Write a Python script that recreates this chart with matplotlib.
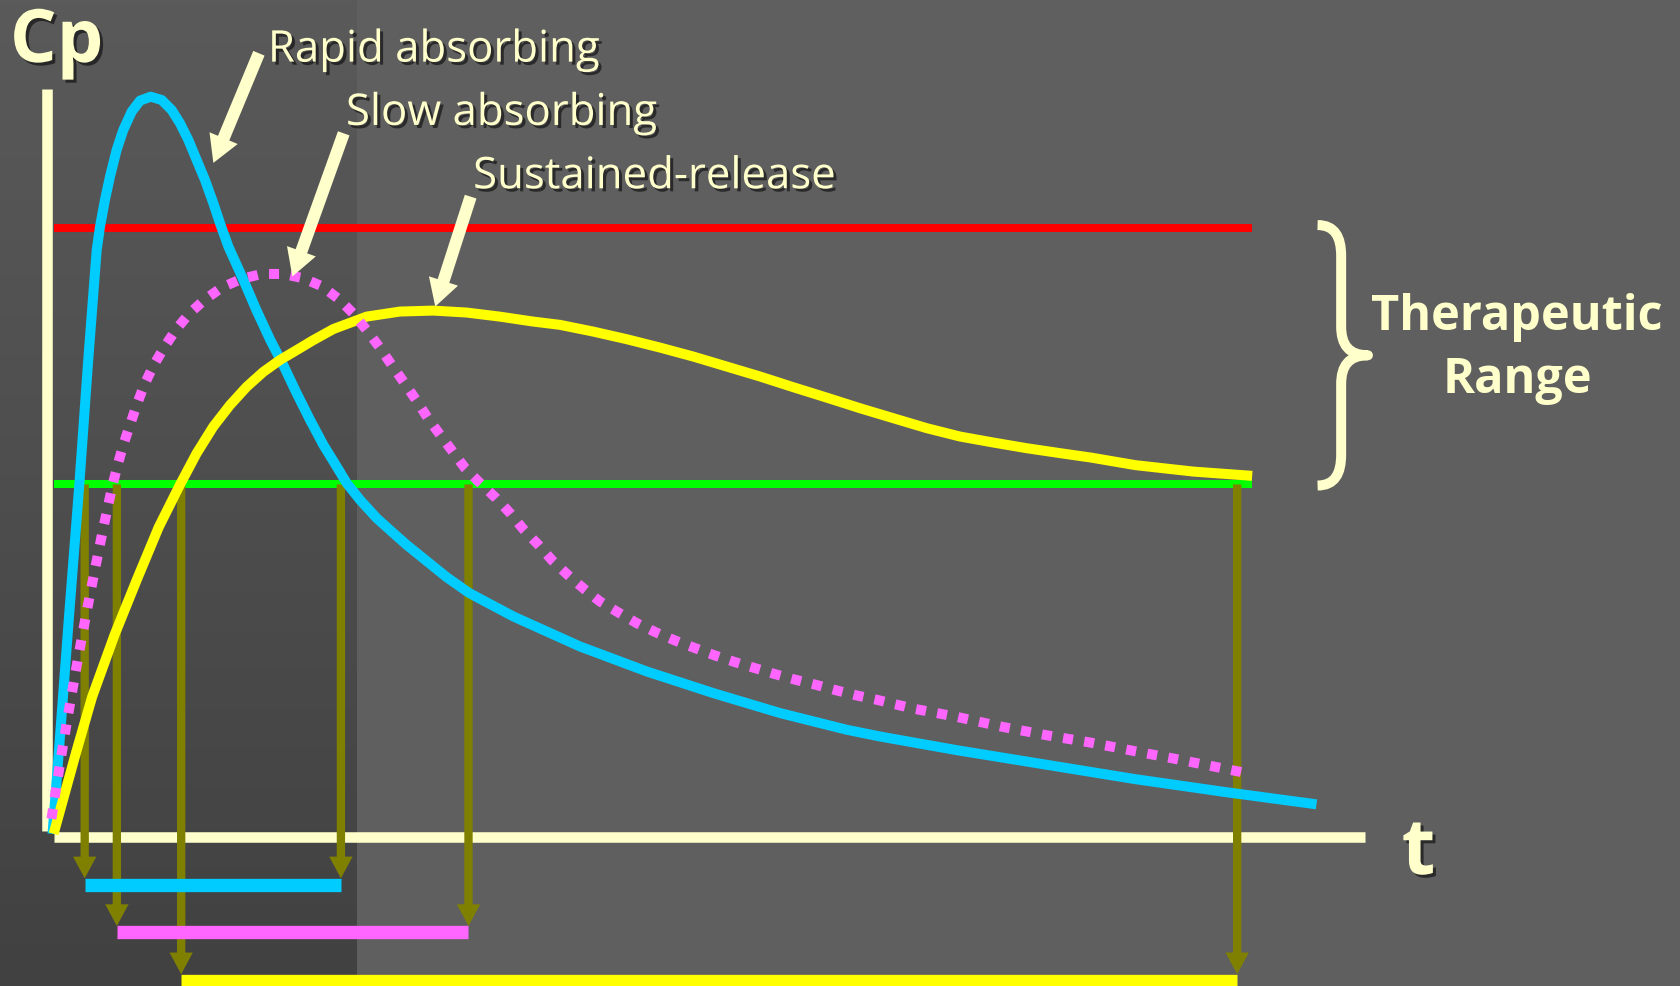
import numpy as np
import matplotlib
matplotlib.use("Agg")
import matplotlib.pyplot as plt
import matplotlib.patheffects as pe
from matplotlib.colors import LinearSegmentedColormap
from matplotlib.path import Path
from matplotlib.patches import PathPatch

# plasma concentration vs time (t in h, Cp in arbitrary units)
t_rapid = [0.02, 0.095, 0.17, 0.27, 0.35, 0.432, 0.463, 0.509, 0.556, 0.618, 0.68, 0.758, 0.836,
           0.935, 1.038, 1.131, 1.209, 1.287, 1.364, 1.442, 1.52, 1.582, 1.66, 1.80, 1.92, 2.05,
           2.179, 2.297, 2.422, 2.546, 2.67, 2.764, 2.888, 3.044, 3.199, 3.323, 3.697, 3.908,
           4.318, 4.94, 5.562, 6.183, 6.805, 7.428, 7.738, 8.457, 9.288, 10.12, 10.956, 11.81]
cp_rapid = [0.00, 0.98, 1.98, 3.26, 4.38, 5.448, 5.666, 5.915, 6.132, 6.381, 6.567, 6.738, 6.841,
            6.878, 6.847, 6.754, 6.63, 6.474, 6.288, 6.101, 5.884, 5.697, 5.48, 5.17, 4.89, 4.61,
            4.36, 4.111, 3.862, 3.629, 3.427, 3.272, 3.116, 2.945, 2.806, 2.696, 2.394, 2.246,
            2.028, 1.748, 1.515, 1.313, 1.127, 0.971, 0.908, 0.78, 0.645, 0.51, 0.39, 0.275]

t_slow = [0.01, 0.054, 0.107, 0.16, 0.24, 0.334, 0.418, 0.495, 0.58, 0.628, 0.68, 0.743, 0.805,
          0.876, 0.96, 1.06, 1.169, 1.293, 1.436, 1.598, 1.784, 1.971, 2.167, 2.359, 2.53, 2.69,
          2.82, 2.95, 3.07, 3.18, 3.30, 3.41, 3.52, 3.63, 3.75, 3.87, 4.01, 4.16, 4.29, 4.411,
          4.551, 4.682, 4.825, 4.977, 5.126, 5.298, 5.469, 5.649, 5.826, 6.013, 6.199, 6.386,
          6.572, 6.759, 6.952, 7.138, 7.334, 7.521, 7.707, 8.04, 8.46, 8.87, 9.29, 9.71, 10.12,
          10.54, 11.19]
cp_slow = [0.14, 0.43, 0.76, 1.08, 1.54, 2.05, 2.48, 2.86, 3.256, 3.443, 3.63, 3.816, 4.002,
           4.19, 4.366, 4.537, 4.702, 4.851, 4.982, 5.097, 5.178, 5.224, 5.224, 5.184, 5.11, 4.99,
           4.86, 4.70, 4.54, 4.38, 4.21, 4.05, 3.88, 3.73, 3.57, 3.41, 3.27, 3.13, 2.99, 2.843,
           2.697, 2.55, 2.417, 2.286, 2.168, 2.065, 1.966, 1.879, 1.804, 1.733, 1.664, 1.602,
           1.546, 1.49, 1.437, 1.391, 1.338, 1.291, 1.251, 1.17, 1.09, 1.00, 0.92, 0.85, 0.77,
           0.69, 0.56]

t_sr = [0.03, 0.24, 0.39, 0.60, 0.81, 1.01, 1.21, 1.364, 1.52, 1.675, 1.83, 1.986, 2.14, 2.30,
        2.45, 2.64, 2.95, 3.26, 3.57, 3.88, 4.19, 4.50, 4.753, 5.064, 5.376, 5.686, 5.997, 6.308,
        6.619, 6.93, 7.241, 7.552, 7.862, 8.174, 8.484, 8.795, 9.106, 9.417, 9.71, 10.12, 10.66,
        11.21]
cp_sr = [0.00, 0.76, 1.28, 1.86, 2.38, 2.86, 3.26, 3.55, 3.80, 4.00, 4.17, 4.31, 4.42, 4.515,
         4.605, 4.71, 4.826, 4.873, 4.882, 4.864, 4.826, 4.78, 4.749, 4.686, 4.615, 4.537, 4.453,
         4.36, 4.267, 4.167, 4.07, 3.971, 3.878, 3.785, 3.707, 3.651, 3.598, 3.552, 3.51, 3.44,
         3.38, 3.34]

MTC = 5.65  # minimum toxic concentration
MEC = 3.26  # minimum effective concentration
t_lines_end = 11.21

# start / end of therapeutic effect for rapid, slow, sustained-release
onset = [0.32, 0.62, 1.22]
offset = [2.71, 3.90, 11.07]

labels = ["Rapid absorbing", "Slow absorbing", "Sustained-release"]
colors = ["#00CCFF", "#FF66FF", "#FFFF00"]
bar_levels = [-0.475, -0.92, -1.37]

CREAM = "#FFFFCC"
OLIVE = "#808000"
FONT = ["Open Sans", "DejaVu Sans"]

fig = plt.figure(figsize=(16.81, 9.86), dpi=100)
fig.patch.set_facecolor("#5F5F5F")

# darker gradient panel on the left
bg = fig.add_axes([0, 0, 1, 1])
bg.set_axis_off()
grad = np.linspace(0, 1, 256).reshape(-1, 1)
cmap = LinearSegmentedColormap.from_list("panel", ["#5A5A5A", "#414141"])
bg.imshow(grad, cmap=cmap, aspect="auto", extent=(0, 333 / 1568, 0, 1), origin="upper")
bg.set_xlim(0, 1)
bg.set_ylim(0, 1)

ax = fig.add_axes([0, 0, 1, 1])
ax.set_axis_off()
ax.set_xlim(-0.47, 15.21)
ax.set_ylim(-1.42, 7.78)

# axes
ax.plot([-0.035, -0.035], [0.03, 6.95], color=CREAM, lw=7.6, solid_capstyle="butt", zorder=2)
ax.plot([0.03, 12.26], [-0.027, -0.027], color=CREAM, lw=7.6, solid_capstyle="butt", zorder=2)

# MTC / MEC
ax.plot([0.03, t_lines_end], [MTC, MTC], color="#FF0000", lw=5.8, solid_capstyle="butt", zorder=3)
ax.plot([0.03, t_lines_end], [MEC, MEC], color="#00FF00", lw=5.8, solid_capstyle="butt", zorder=3)

# drop arrows + duration bars
for i in range(3):
    for ts in (onset[i], offset[i]):
        ax.annotate("", xy=(ts, bar_levels[i] + 0.06), xytext=(ts, MEC),
                    arrowprops=dict(arrowstyle="simple,head_length=1.56,head_width=1.68,tail_width=0.6",
                                    mutation_scale=10, fc=OLIVE, ec="none", shrinkA=0, shrinkB=0),
                    zorder=4)
    ax.plot([onset[i], offset[i]], [bar_levels[i], bar_levels[i]], color=colors[i], lw=9.6,
            solid_capstyle="butt", zorder=5)

# curves
ax.plot(t_rapid, cp_rapid, color=colors[0], lw=7.2, solid_capstyle="butt", solid_joinstyle="round", zorder=6)
ax.plot(t_sr, cp_sr, color=colors[2], lw=7.2, solid_capstyle="butt", solid_joinstyle="round", zorder=7)
ax.plot(t_slow, cp_slow, color=colors[1], lw=7.2, linestyle=(0, (1, 1.14)), dash_capstyle="butt", zorder=8)

# label arrows
arrow_tips = [(1.52, 6.26), (2.257, 5.20), (3.59, 4.92)]
arrow_tails = [(1.945, 7.283), (2.736, 6.536), (3.92, 5.945)]
for tip, tail in zip(arrow_tips, arrow_tails):
    ax.annotate("", xy=tip, xytext=tail,
                arrowprops=dict(arrowstyle="simple,head_length=1.93,head_width=2.2,tail_width=0.88",
                                mutation_scale=10, fc=CREAM, ec="none", shrinkA=0, shrinkB=0),
                zorder=9)

shadow = [pe.withSimplePatchShadow(offset=(2.2, -2.2), shadow_rgbFace="black", alpha=0.55)]

label_pos = [(249.9, 57.5), (322.7, 116.6), (441.3, 175.7)]
for lab, (px, py) in zip(labels, label_pos):
    fig.text(px / 1568, 1 - py / 920, lab, family=FONT, fontsize=31.5, color=CREAM,
             ha="left", va="baseline", path_effects=shadow, zorder=10)

fig.text(9.2 / 1568, 1 - 57.8 / 920, "Cp", family=FONT, fontsize=53, fontweight="bold",
         color=CREAM, ha="left", va="baseline", path_effects=shadow)
fig.text(1307.4 / 1568, 1 - 815.5 / 920, "t", family=FONT, fontsize=56, fontweight="bold",
         color=CREAM, ha="left", va="baseline", path_effects=shadow)
fig.text(1414.5 / 1568, 1 - 307.8 / 920, "Therapeutic", family=FONT, fontsize=35,
         fontweight="bold", color=CREAM, ha="center", va="baseline")
fig.text(1415.6 / 1568, 1 - 366.3 / 920, "Range", family=FONT, fontsize=35,
         fontweight="bold", color=CREAM, ha="center", va="baseline")

# curly brace spanning the therapeutic range
x0, xs, xm = 11.82, 12.04, 12.29
yt, yb = MTC + 0.03, MEC - 0.01
ym = (yt + yb) / 2
verts = [(x0, yt), (x0 + 0.16, yt), (xs, yt - 0.11), (xs, yt - 0.29),
         (xs, ym + 0.27),
         (xs, ym + 0.1), (xs + 0.07, ym), (xm, ym),
         (xs + 0.07, ym), (xs, ym - 0.1), (xs, ym - 0.27),
         (xs, yb + 0.29),
         (xs, yb + 0.11), (x0 + 0.16, yb), (x0, yb)]
codes = [Path.MOVETO, Path.CURVE4, Path.CURVE4, Path.CURVE4,
         Path.LINETO,
         Path.CURVE4, Path.CURVE4, Path.CURVE4,
         Path.CURVE4, Path.CURVE4, Path.CURVE4,
         Path.LINETO,
         Path.CURVE4, Path.CURVE4, Path.CURVE4]
ax.add_patch(PathPatch(Path(verts, codes), fill=False, ec=CREAM, lw=7.2, capstyle="butt",
                       joinstyle="round", zorder=9))

fig.savefig("out.png", dpi=100, facecolor=fig.get_facecolor())
